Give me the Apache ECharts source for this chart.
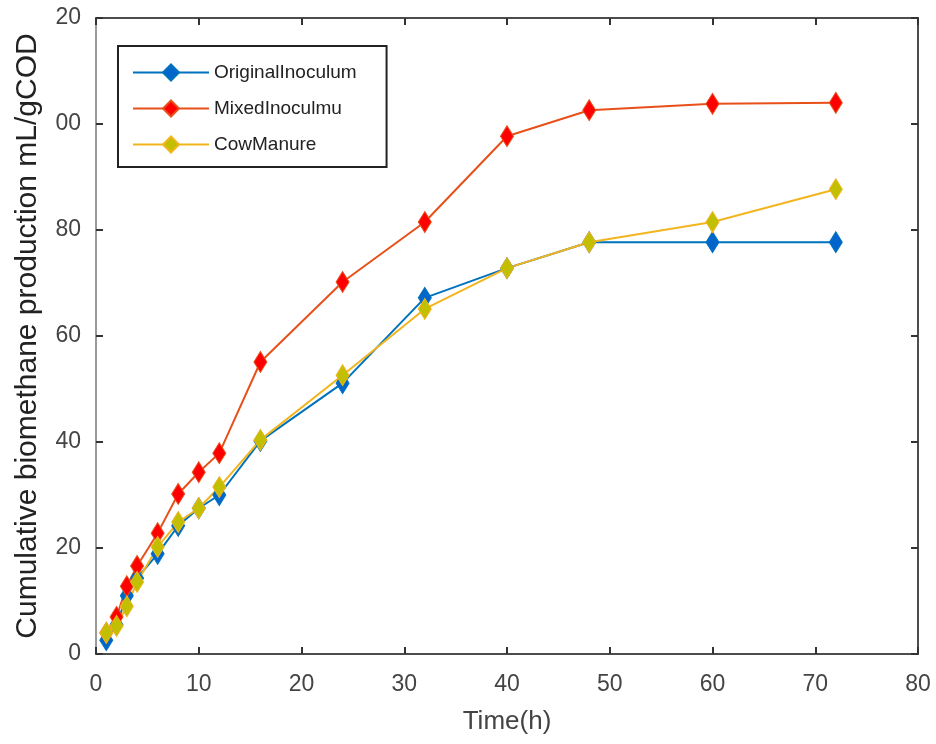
<!DOCTYPE html>
<html><head><meta charset="utf-8">
<script src="https://cdn.jsdelivr.net/npm/echarts@6/dist/echarts.min.js"></script>
<style>html,body{margin:0;padding:0;background:#fff}#c{width:936px;height:744px}</style>
</head><body><div id="c"></div>
<script>
const timeH = [1, 2, 3, 4, 6, 8, 10, 12, 16, 24, 32, 40, 48, 60, 72];
const originalInoculum = [2.6, 5.5, 11, 14.3, 18.9, 24.2, 27.5, 30, 40.2, 51.1, 67.2, 72.8, 77.7, 77.7, 77.7];
const mixedInoculmu = [4, 7, 12.8, 16.6, 22.8, 30.2, 34.3, 37.9, 55.1, 70.2, 81.5, 97.7, 102.6, 103.8, 104];
const cowManure = [4, 5.3, 9, 13.6, 20.2, 24.9, 27.5, 31.5, 40.4, 52.6, 65.1, 72.8, 77.7, 81.5, 87.7];
const seriesNames = ['OriginalInoculum', 'MixedInoculmu', 'CowManure'];
const yTickValues = [0, 20, 40, 60, 80, 100, 120];
const yTickLabels = ['0', '20', '40', '60', '80', '00', '20'];
const xTickLabels = ['0', '10', '20', '30', '40', '50', '60', '70', '80'];

const FONT = '"Liberation Sans", Arial, sans-serif';
const chart = echarts.init(document.getElementById('c'), null, {renderer: 'canvas'});
const pairs = arr => timeH.map((t, i) => [t, arr[i]]);
function mk(name, data, lineColor, markColor) {
  return {
    name, type: 'line', data: pairs(data),
    symbol: 'diamond', symbolSize: [13, 21],
    lineStyle: {color: lineColor, width: 2},
    itemStyle: {color: markColor, borderColor: lineColor, borderWidth: 1},
    emphasis: {disabled: true}, animation: false, z: 3
  };
}
const axisCommon = () => ({
  axisLine: {show: true, onZero: false, lineStyle: {color: '#4d4d4d', width: 2}},
  axisTick: {show: true, inside: true, length: 7, lineStyle: {color: '#333', width: 2}},
  splitLine: {show: false}
});
chart.setOption({
  backgroundColor: '#fff',
  animation: false,
  grid: {left: 96, right: 18, top: 18, bottom: 90, containLabel: false},
  legend: {
    show: true, left: 118, top: 46, orient: 'vertical',
    data: seriesNames,
    backgroundColor: '#fff', borderColor: '#222', borderWidth: 2,
    padding: [17, 30, 13, 14], itemGap: 17,
    itemWidth: 76, itemHeight: 20,
    textStyle: {fontFamily: FONT, fontSize: 19, color: '#222'}
  },
  xAxis: [{
    type: 'value', min: 0, max: 80, interval: 10,
    name: 'Time(h)', nameLocation: 'middle', nameGap: 55,
    nameTextStyle: {fontFamily: FONT, fontSize: 26, color: '#444'},
    axisLabel: {fontFamily: FONT, fontSize: 23, color: '#444', margin: 19,
      formatter: v => xTickLabels[Math.round(v / 10)]},
    ...axisCommon()
  }, {
    type: 'value', min: 0, max: 80, interval: 10, position: 'top',
    axisLabel: {show: false}, ...axisCommon()
  }],
  yAxis: [{
    type: 'value', min: 0, max: 120, interval: 20,
    name: 'Cumulative biomethane production mL/gCOD', nameLocation: 'middle', nameGap: 53,
    nameTextStyle: {fontFamily: FONT, fontSize: 30, color: '#222'},
    axisLabel: {fontFamily: FONT, fontSize: 23, color: '#444', margin: 15,
      formatter: v => yTickLabels[yTickValues.indexOf(v)]},
    ...axisCommon(),
    axisLine: {show: true, onZero: false, lineStyle: {color: '#999', width: 2}}
  }, {
    type: 'value', min: 0, max: 120, interval: 20, position: 'right',
    axisLabel: {show: false}, ...axisCommon()
  }],
  series: [
    mk(seriesNames[0], originalInoculum, '#0072BD', '#0066CC'),
    mk(seriesNames[1], mixedInoculmu, '#E8501A', '#FF0000'),
    mk(seriesNames[2], cowManure, '#F2B51E', '#C2BE00')
  ]
});
</script></body></html>
